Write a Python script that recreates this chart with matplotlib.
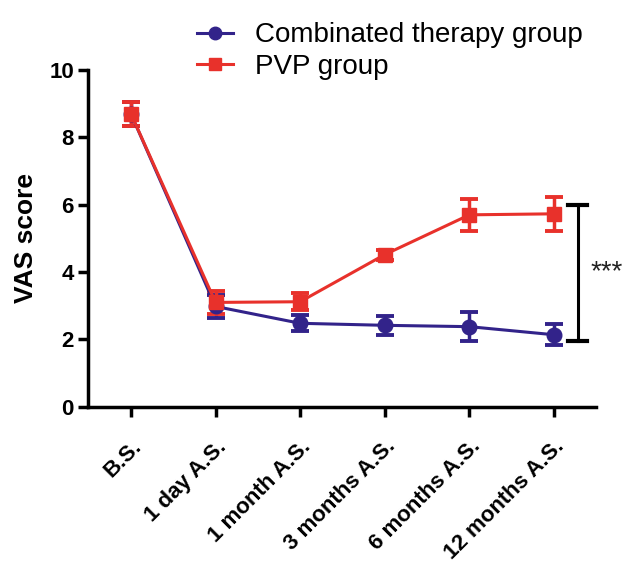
import numpy as np
import matplotlib
matplotlib.use("Agg")
import matplotlib.pyplot as plt
from matplotlib.lines import Line2D
from matplotlib.transforms import ScaledTranslation

plt.rcParams['font.family'] = ['Liberation Sans', 'DejaVu Sans']

labels = ["B.S.", "1 day A.S.", "1 month A.S.", "3 months A.S.", "6 months A.S.", "12 months A.S."]
comb_mean = [8.7, 2.98, 2.48, 2.42, 2.38, 2.14]
comb_err = [0.35, 0.35, 0.24, 0.28, 0.44, 0.31]
pvp_mean = [8.7, 3.1, 3.12, 4.52, 5.7, 5.73]
pvp_err = [0.35, 0.35, 0.25, 0.15, 0.48, 0.5]
sig_low, sig_high = 1.96, 6.0

blue = "#32238a"
red = "#e8312b"

fig = plt.figure(figsize=(6.27, 5.69), dpi=100)
ax = fig.add_axes([0.140, 0.285, 0.811, 0.592])
x = np.arange(len(labels))

ax.errorbar(x, comb_mean, yerr=comb_err, color=blue, marker="o", markersize=10.5,
            linewidth=2.2, elinewidth=2.5, capsize=6.5, capthick=2.8)
ax.errorbar(x, pvp_mean, yerr=pvp_err, color=red, marker="s", markersize=10.5,
            linewidth=2.2, elinewidth=2.5, capsize=6.5, capthick=2.8)

# significance bracket
bx = 5.28
ax.plot([bx, bx], [sig_low, sig_high], color="black", lw=2.2, clip_on=False)
ax.plot([bx - 0.11, bx + 0.11], [sig_high, sig_high], color="black", lw=3, clip_on=False)
ax.plot([bx - 0.11, bx + 0.11], [sig_low, sig_low], color="black", lw=3, clip_on=False)
ax.text(bx + 0.15, 4.0, "***", fontsize=20, va="center", ha="left", color="#222222",
        clip_on=False)

ax.set_xlim(-0.51, 5.5)
ax.set_ylim(0, 10)
ax.set_yticks([0, 2, 4, 6, 8, 10])
ax.set_xticks(x)
ax.set_xticklabels(labels, rotation=45, ha="right", rotation_mode="anchor",
                   fontsize=16, fontweight="bold")
offset = ScaledTranslation(5 / 72, 0, fig.dpi_scale_trans)
for t in ax.get_xticklabels():
    t.set_transform(t.get_transform() + offset)
for t in ax.get_yticklabels():
    t.set_fontweight("bold")
    t.set_fontsize(16)
ax.set_ylabel("VAS score", fontsize=19, fontweight="bold", labelpad=8)

ax.spines["top"].set_visible(False)
ax.spines["right"].set_visible(False)
ax.spines["left"].set_linewidth(2.5)
ax.spines["bottom"].set_linewidth(2.5)
ax.tick_params(axis="both", width=2.5, length=7, direction="out")
ax.tick_params(axis="x", pad=14)
ax.tick_params(axis="y", pad=3)

handles = [Line2D([], [], color=blue, marker="o", markersize=9, lw=2.2),
           Line2D([], [], color=red, marker="s", markersize=9, lw=2.2)]
ax.legend(handles, ["Combinated therapy group", "PVP group"],
          loc="upper left", bbox_to_anchor=(0.287, 0.99), bbox_transform=fig.transFigure,
          frameon=False, fontsize=20, handlelength=1.3, handletextpad=0.8,
          labelspacing=0.2, borderaxespad=0.2)

fig.savefig("out.png", dpi=100)
